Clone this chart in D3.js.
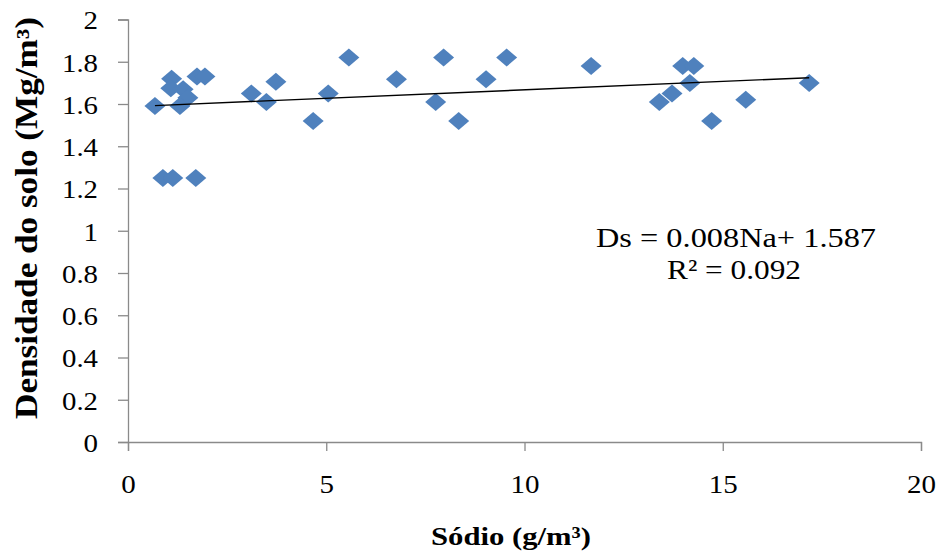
<!DOCTYPE html>
<html><head><meta charset="utf-8">
<script src="https://cdnjs.cloudflare.com/ajax/libs/d3/7.8.5/d3.min.js"></script>
<style>body{margin:0;background:#fff}svg{display:block}
svg text{font-family:"Liberation Serif",Tinos,"Times New Roman",Times,serif}</style>
</head><body>
<svg id="c" width="938" height="551"></svg>
<script>
const sodio = [0.68,0.88,1.10,1.13,1.71,1.08,1.39,1.51,1.31,1.74,1.94,3.11,3.49,3.73,4.67,5.05,5.57,6.77,7.76,7.96,8.34,9.03,9.55,11.68,13.40,13.72,13.99,14.27,14.17,14.72,15.58,17.18];
const densidade = [1.59,1.25,1.72,1.25,1.25,1.675,1.67,1.63,1.59,1.73,1.73,1.65,1.61,1.705,1.52,1.65,1.82,1.717,1.61,1.82,1.52,1.717,1.82,1.78,1.61,1.65,1.78,1.78,1.70,1.52,1.62,1.70];
const xTicks = [0,5,10,15,20];
const yTicks = [0,0.2,0.4,0.6,0.8,1,1.2,1.4,1.6,1.8,2];
const slope = 0.008, intercept = 1.587;
const eqLines = ["Ds = 0.008Na+ 1.587", "R² = 0.092"];

const svg = d3.select("#c");
const x = d3.scaleLinear().domain([0,20]).range([128,921]);
const y = d3.scaleLinear().domain([0,2]).range([442,19.5]);
const axisCol = "#8a8a8a";
// approximate Times-like widths so DejaVu glyphs are condensed to the original look
const tl = s => s.split("").reduce((a,c)=>a+(c==="."?7:14.5),0);

const ya = svg.append("g").attr("transform","translate(128,0)")
  .call(d3.axisLeft(y).tickValues(yTicks).tickSize(10).tickPadding(20).tickFormat(d=>String(d)));
const xa = svg.append("g").attr("transform","translate(0,442)")
  .call(d3.axisBottom(x).tickValues(xTicks).tickSize(9).tickPadding(26).tickFormat(d=>String(d)));
[ya,xa].forEach(a=>{
  a.attr("font-family",null);
  a.selectAll("path").attr("stroke",axisCol).attr("stroke-width",1.3);
  a.selectAll("line").attr("stroke",axisCol).attr("stroke-width",1.3);
  a.selectAll("text").attr("font-size",26).attr("fill","#000")
    .attr("textLength",function(){return tl(this.textContent);})
    .attr("lengthAdjust","spacingAndGlyphs");
});
ya.selectAll("text").attr("dy","0.36em");
xa.selectAll("text").attr("y",51).attr("dy",0);

const diamond = "M0,-9L10.5,0L0,9L-10.5,0Z";
svg.append("g").selectAll("path").data(sodio.map((s,i)=>[s,densidade[i]])).join("path")
  .attr("d",diamond).attr("fill","#4F81BD")
  .attr("transform",d=>`translate(${x(d[0])},${y(d[1])})`);

const xmin = d3.min(sodio), xmax = d3.max(sodio);
svg.append("line")
  .attr("x1",x(xmin)).attr("y1",y(slope*xmin+intercept))
  .attr("x2",x(xmax)).attr("y2",y(slope*xmax+intercept))
  .attr("stroke","#000").attr("stroke-width",1.4);

svg.append("text").attr("x",736).attr("y",247).attr("text-anchor","middle")
  .attr("font-size",28).attr("textLength",280).attr("lengthAdjust","spacingAndGlyphs")
  .text(eqLines[0]);
svg.append("text").attr("x",734).attr("y",279).attr("text-anchor","middle")
  .attr("font-size",28).attr("textLength",134).attr("lengthAdjust","spacingAndGlyphs")
  .text(eqLines[1]);

svg.append("text").attr("x",511).attr("y",545).attr("text-anchor","middle")
  .attr("font-size",26).attr("font-weight","bold")
  .attr("textLength",160).attr("lengthAdjust","spacingAndGlyphs")
  .text("Sódio (g/m³)");
svg.append("text").attr("transform","translate(37,218) rotate(-90)").attr("text-anchor","middle")
  .attr("font-size",31).attr("font-weight","bold")
  .attr("textLength",402).attr("lengthAdjust","spacingAndGlyphs")
  .text("Densidade do solo (Mg/m³)");
</script>
</body></html>
